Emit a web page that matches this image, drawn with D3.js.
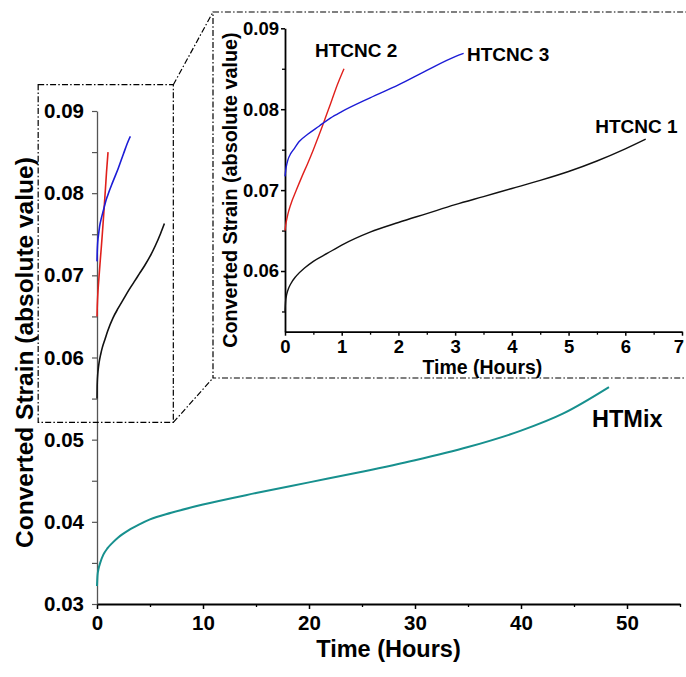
<!DOCTYPE html>
<html>
<head>
<meta charset="utf-8">
<script src="https://cdn.jsdelivr.net/npm/d3@7"></script>
<style>
  html, body { margin: 0; padding: 0; background: #fff; }
  svg text { font-family: "Liberation Sans", Arial, sans-serif; font-weight: bold; fill: #000; }
</style>
</head>
<body>
<svg id="chart" width="686" height="677"></svg>
<script>
// ---- creep data: time (hours) vs converted strain (absolute value) ----
const htcnc1Time   = [0, 0.01, 0.03, 0.06, 0.1, 0.2, 0.35, 0.5, 0.75, 1, 1.5, 2, 2.5, 3, 3.5, 4, 4.5, 5, 5.5, 6, 6.36];
const htcnc1Strain = [0.0550, 0.0562, 0.0571, 0.0578, 0.0584, 0.0594, 0.0604, 0.0612, 0.0622, 0.0632, 0.0648, 0.0660, 0.0671, 0.0682, 0.0692, 0.0702, 0.0712, 0.0723, 0.0736, 0.0751, 0.0763];

const htcnc2Time   = [0, 0.02, 0.05, 0.1, 0.2, 0.3, 0.4, 0.5, 0.6, 0.7, 0.8, 0.9, 1.04];
const htcnc2Strain = [0.0650, 0.0660, 0.0670, 0.0682, 0.0700, 0.0717, 0.0733, 0.0750, 0.0768, 0.0787, 0.0806, 0.0826, 0.0850];

const htcnc3Time   = [0, 0.02, 0.05, 0.1, 0.15, 0.25, 0.4, 0.6, 0.8, 1, 1.5, 2, 2.5, 3, 3.15];
const htcnc3Strain = [0.0717, 0.0728, 0.0737, 0.0745, 0.0750, 0.0760, 0.0769, 0.0779, 0.0789, 0.0797, 0.0814, 0.0830, 0.0848, 0.0865, 0.0869];

const htmixTime   = [0, 0.05, 0.15, 0.3, 0.6, 1, 1.5, 2, 3, 4, 5, 7, 10, 15, 20, 25, 30, 35, 40, 44, 48.3];
const htmixStrain = [0.0322, 0.0335, 0.0343, 0.0350, 0.0360, 0.0368, 0.0375, 0.0381, 0.0390, 0.0397, 0.0403, 0.0411, 0.0421, 0.0435, 0.0448, 0.0461, 0.0475, 0.0491, 0.0511, 0.0532, 0.0564];

// axis ticks
const mainXTicks = [0, 10, 20, 30, 40, 50];
const mainYTicks = [0.03, 0.04, 0.05, 0.06, 0.07, 0.08, 0.09];
const insetXTicks = [0, 1, 2, 3, 4, 5, 6, 7];
const insetYTicks = [0.06, 0.07, 0.08, 0.09];

const seriesNames  = ["HTCNC 1", "HTCNC 2", "HTCNC 3", "HTMix"];
const seriesColors = ["#111111", "#e0201c", "#1c1cd6", "#17908e"];

const toPoints = (t, s) => t.map((v, i) => [v, s[i]]);
const htcncSeries = [
  { name: seriesNames[0], color: seriesColors[0], pts: toPoints(htcnc1Time, htcnc1Strain) },
  { name: seriesNames[1], color: seriesColors[1], pts: toPoints(htcnc2Time, htcnc2Strain) },
  { name: seriesNames[2], color: seriesColors[2], pts: toPoints(htcnc3Time, htcnc3Strain) }
];
const htmix = { name: seriesNames[3], color: seriesColors[3], pts: toPoints(htmixTime, htmixStrain) };

const svg = d3.select("#chart");
const dashDot = "6,2.2,1.5,2.2";

// ---------------- main plot ----------------
const x = d3.scaleLinear().domain([0, 55]).range([97, 680]);
const y = d3.scaleLinear().domain([0.03, 0.09]).range([604, 111]);

const mainLine = d3.line().x(d => x(d[0])).y(d => y(d[1])).curve(d3.curveMonotoneX);

// minor ticks
const gxMinor = svg.append("g").attr("transform", `translate(0,${y(0.03)})`)
  .call(d3.axisBottom(x).tickValues(d3.range(5, 56, 10)).tickSize(3).tickFormat(""));
const gyMinor = svg.append("g").attr("transform", `translate(${x(0)},0)`)
  .call(d3.axisLeft(y).tickValues(d3.range(0.035, 0.09, 0.01)).tickSize(5).tickFormat(""));
[gxMinor, gyMinor].forEach(g => g.select(".domain").remove());
gxMinor.selectAll("line").attr("stroke", "#000").attr("stroke-width", 1.3);
gyMinor.selectAll("line").attr("stroke", "#555").attr("stroke-width", 1.2);

const gx = svg.append("g").attr("transform", `translate(0,${y(0.03)})`)
  .call(d3.axisBottom(x).tickValues(mainXTicks).tickSize(5).tickSizeOuter(0).tickPadding(6).tickFormat(d3.format("d")));
gx.select(".domain").attr("stroke", "#000").attr("stroke-width", 2);
gx.selectAll("line").attr("stroke", "#000").attr("stroke-width", 1.5);
gx.selectAll("text").attr("font-size", 20.5).attr("font-family", "Liberation Sans, Arial, sans-serif").attr("font-weight", "bold");

const gy = svg.append("g").attr("transform", `translate(${x(0)},0)`)
  .call(d3.axisLeft(y).tickValues(mainYTicks).tickSize(5).tickSizeOuter(0).tickPadding(8).tickFormat(d3.format(".2f")));
gy.select(".domain").attr("stroke", "#555").attr("stroke-width", 1.3);
gy.selectAll("line").attr("stroke", "#555").attr("stroke-width", 1.2);
gy.selectAll("text").attr("font-size", 20.5).attr("font-family", "Liberation Sans, Arial, sans-serif").attr("font-weight", "bold");

svg.append("text")
  .attr("transform", `translate(${x(27.5)},657)`)
  .attr("text-anchor", "middle").attr("font-size", 23.5)
  .text("Time (Hours)");

svg.append("text")
  .attr("transform", `translate(33,${y(0.0606)}) rotate(-90)`)
  .attr("text-anchor", "middle").attr("font-size", 24.5)
  .text("Converted Strain (absolute value)");

// all four series on the main axes
htcncSeries.forEach(s => {
  svg.append("path").datum(s.pts)
    .attr("d", mainLine).attr("fill", "none")
    .attr("stroke", s.color).attr("stroke-width", 1.6);
});
svg.append("path").datum(htmix.pts)
  .attr("d", mainLine).attr("fill", "none")
  .attr("stroke", htmix.color).attr("stroke-width", 2);

svg.append("text")
  .attr("x", x(46.7)).attr("y", y(0.05153))
  .attr("font-size", 23.5).text(htmix.name);

// zoom region on the main axes (dash-dot frame)
const zoomBox = { t0: -5.55, t1: 7.2, s0: 0.0521, s1: 0.0932 };
const zx0 = x(zoomBox.t0), zx1 = x(zoomBox.t1), zy0 = y(zoomBox.s1), zy1 = y(zoomBox.s0);
svg.append("rect")
  .attr("x", zx0).attr("y", zy0).attr("width", zx1 - zx0).attr("height", zy1 - zy0)
  .attr("fill", "none").attr("stroke", "#000").attr("stroke-width", 1.2)
  .attr("stroke-dasharray", dashDot);

// ---------------- inset ----------------
const frame = { left: 213, top: 12, right: 692, bottom: 378 };

svg.append("rect")
  .attr("x", frame.left).attr("y", frame.top)
  .attr("width", frame.right - frame.left).attr("height", frame.bottom - frame.top)
  .attr("fill", "#fff").attr("stroke", "#000").attr("stroke-width", 1.2)
  .attr("stroke-dasharray", dashDot);

// connectors from zoom region to inset frame
[[zx1, zy0, frame.left, frame.top], [zx1, zy1, frame.left, frame.bottom]].forEach(c => {
  svg.append("line")
    .attr("x1", c[0]).attr("y1", c[1]).attr("x2", c[2]).attr("y2", c[3])
    .attr("stroke", "#000").attr("stroke-width", 1.2).attr("stroke-dasharray", dashDot);
});

const ix = d3.scaleLinear().domain([0, 7]).range([285, 682]);
const iy = d3.scaleLinear().domain([0.0525, 0.09]).range([331.7, 28.3]);
const insetLine = d3.line().x(d => ix(d[0])).y(d => iy(d[1])).curve(d3.curveMonotoneX);

const ixMinor = svg.append("g").attr("transform", `translate(0,${iy(0.0525)})`)
  .call(d3.axisBottom(ix).tickValues(d3.range(0.5, 7, 1)).tickSize(3).tickFormat(""));
const iyMinor = svg.append("g").attr("transform", `translate(${ix(0)},0)`)
  .call(d3.axisLeft(iy).tickValues([0.055, 0.065, 0.075, 0.085]).tickSize(3).tickFormat(""));
[ixMinor, iyMinor].forEach(g => {
  g.select(".domain").remove();
  g.selectAll("line").attr("stroke", "#000").attr("stroke-width", 1.3);
});

const igx = svg.append("g").attr("transform", `translate(0,${iy(0.0525)})`)
  .call(d3.axisBottom(ix).tickValues(insetXTicks).tickSize(4).tickSizeOuter(0).tickPadding(4).tickFormat(d3.format("d")));
const igy = svg.append("g").attr("transform", `translate(${ix(0)},0)`)
  .call(d3.axisLeft(iy).tickValues(insetYTicks).tickSize(4).tickSizeOuter(0).tickPadding(2).tickFormat(d3.format(".2f")));
[igx, igy].forEach(g => {
  g.select(".domain").attr("stroke", "#000").attr("stroke-width", 1.8);
  g.selectAll("line").attr("stroke", "#000").attr("stroke-width", 1.5);
  g.selectAll("text").attr("font-size", 18.5).attr("font-family", "Liberation Sans, Arial, sans-serif").attr("font-weight", "bold");
});
// keep the last tick label inside the page edge
igx.selectAll(".tick text").filter(d => d === 7).attr("text-anchor", "end").attr("dx", "0.08em");

svg.append("text")
  .attr("transform", `translate(${ix(3.48)},374)`)
  .attr("text-anchor", "middle").attr("font-size", 19.5)
  .text("Time (Hours)");

svg.append("text")
  .attr("transform", `translate(237,${iy(0.07)}) rotate(-90)`)
  .attr("text-anchor", "middle").attr("font-size", 19.8)
  .text("Converted Strain (absolute value)");

htcncSeries.forEach(s => {
  svg.append("path").datum(s.pts)
    .attr("d", insetLine).attr("fill", "none")
    .attr("stroke", s.color).attr("stroke-width", 1.4);
});

// series labels in the inset
const insetLabels = [
  { name: seriesNames[0], t: 5.47, s: 0.0770 },
  { name: seriesNames[1], t: 0.53, s: 0.0865 },
  { name: seriesNames[2], t: 3.21, s: 0.0859 }
];
insetLabels.forEach(l => {
  svg.append("text").attr("x", ix(l.t)).attr("y", iy(l.s))
    .attr("font-size", 19).text(l.name);
});
</script>
</body>
</html>
